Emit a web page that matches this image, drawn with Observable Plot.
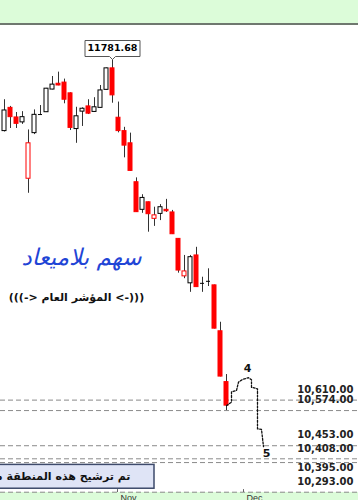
<!DOCTYPE html>
<html><head><meta charset="utf-8">
<script src="https://cdn.jsdelivr.net/npm/d3@7"></script>
<script src="https://cdn.jsdelivr.net/npm/@observablehq/plot@0.6"></script>
<style>
html,body{margin:0;padding:0;background:#fff;}
#wrap{width:358px;height:500px;overflow:hidden;position:relative;}
#top{height:23px;background:#dcfcd9;border-bottom:2px solid #6f786f;}
#chart svg{display:block;}
</style></head><body>
<div id="wrap"><div id="top"></div><div id="chart"></div></div>
<script>
// Daily candles (trading-day index 0..37)
const opens  = [11536,11616,11583,11566,11372,11529,11593,11601,11679,11699,11703,11666,11543,11603,11621,11602,11616,11678,11752,11582,11536,11494,11360,11265,11291,11234,11251,11265,11256,11165,11036,11012,11108,11012,11019,11005,10847,10672];
const highs  = [11644,11621,11600,11603,11540,11609,11624,11683,11724,11739,11715,11668,11618,11616,11644,11651,11693,11753,11781.68,11636,11549,11529,11375,11317,11292,11274,11283,11301,11263,11166,11108,11108,11136,11033,11062,11006,10878,10698];
const lows   = [11533,11545,11545,11559,11322,11524,11592,11600,11678,11692,11630,11538,11494,11552,11593,11600,11615,11677,11632,11530,11444,11397,11256,11253,11188,11208,11228,11256,11180,11047,11028,10981,10998,10981,11001,10855,10690,10574];
const closes = [11607,11584,11561,11584,11494,11592,11593,11682,11696,11693,11644,11547,11587,11613,11596,11618,11676,11752,11659,11536,11486,11399,11257,11306,11250,11246,11274,11260,11181,11056,11053,11102,10999,11012,11019,10856,10691,10591];

// Month labels (index of first trading day)
const monthLabels = ["Nov", "Dec"];
const monthStarts = [19, 40];

// Horizontal support levels
const levels = [10610, 10574, 10453, 10408, 10395, 10293];

// Projected path (waves 4 and 5)
const projX = [37, 37.8, 37.8, 38.7, 39.0, 39.6, 40.7, 41.2, 41.2, 42.1, 42.2, 42.9, 43.1];
const projY = [10591, 10603, 10638, 10643, 10672, 10681, 10687, 10680, 10654, 10649, 10511, 10509, 10450];
const waveLabels = ["4", "5"];
const waveX = [40.55, 43.67];
const waveY = [10718, 10425];

// Text annotations
const titleText = "سهم بلاميعاد";
const titleX = 12.83, titleY = 11101;
const indexText = "\u200E(((-> \u2067المؤشر العام\u2069 <-)))\u200E";
const indexX = 11.95, indexY = 10963;
const noteText = "تم ترشيح هذه المنطقة منطقة الارتداد";
const noteX = 21, noteY = 10347;
const noteBox = {x1: -3, x2: 25, y1: 10305, y2: 10387};

const candles = opens.map((o, i) => {
  const c = closes[i];
  const prev = i > 0 ? closes[i - 1] : c;
  const red = i > 0 && c < prev;
  return {i, open: o, high: highs[i], low: lows[i], close: c,
    color: red ? "#ff0000" : "#000000", up: c > o, doji: c === o};
});
const bodies = candles.filter(d => !d.doji);
const dojis = candles.filter(d => d.doji);
const proj = projX.map((x, k) => ({x, y: projY[k]}));
const waves = waveLabels.map((t, k) => ({t, x: waveX[k], y: waveY[k]}));
const peak = candles.reduce((a, b) => b.high > a.high ? b : a);
const months = monthLabels.map((m, k) => ({m, i: monthStarts[k]}));
const yLow = 10292, yHigh = 11899.5;
const levelRows = levels.map(v => ({v, below: levels.some(u => u > v && u - v < 20)}));
const fmt = d3.format(",.2f");

const chart = Plot.plot({
  width: 358, height: 475,
  marginTop: 0, marginRight: 0, marginBottom: 8, marginLeft: 0,
  x: {type: "linear", domain: [-2/3, 59], round: true, axis: null},
  y: {domain: [yLow, yHigh], axis: null},
  color: {type: "identity"},
  style: {fontFamily: "DejaVu Sans", background: "linear-gradient(to bottom,#ffffff 467px,#dcfcd9 467px)", overflow: "hidden"},
  marks: [
    Plot.ruleY(levels, {y: d => d, stroke: "#8a8a8a", strokeDasharray: "5,3"}),
    Plot.rect([noteBox], {x1: "x1", x2: "x2", y1: "y1", y2: "y2", fill: "#dfe4f6", stroke: "#3d4a6b", strokeWidth: 1.5}),
    Plot.text([noteText], {x: () => noteX, y: () => noteY, text: d => d, textAnchor: "end", fontSize: 11, fontWeight: "bold", fill: "#111"}),
    Plot.ruleX(candles, {x: "i", y1: "low", y2: "high", stroke: "#333"}),
    Plot.rect(bodies, {x1: d => d.i - 0.5, x2: d => d.i + 0.5, insetLeft: 1, insetRight: 1, y1: "open", y2: "close",
      fill: d => d.up ? "#ffffff" : d.color, stroke: "color"}),
    Plot.ruleY(dojis, {y: "close", x1: d => d.i - 0.5, x2: d => d.i + 0.5, insetLeft: 1, insetRight: 1, stroke: "color"}),
    Plot.line(proj, {x: "x", y: "y", stroke: "#111", strokeWidth: 1.3, strokeDasharray: "2,1.6", curve: "linear"}),
    Plot.text(waves, {x: "x", y: "y", text: "t", fontSize: 11, fontWeight: "bold", fill: "#111"}),
    Plot.text(levelRows, {y: "v", text: d => fmt(d.v), frameAnchor: "right", textAnchor: "end", dx: -5,
      dy: -10.5, fontSize: 10, fontWeight: "bold", fill: "#222", filter: d => !d.below}),
    Plot.text(levelRows, {y: "v", text: d => fmt(d.v), frameAnchor: "right", textAnchor: "end", dx: -5,
      dy: 5.5, fontSize: 10, fontWeight: "bold", fill: "#222", filter: d => d.below}),
    Plot.tip([peak], {x: "i", y: "high", title: d => d.high.toFixed(2), anchor: "bottom", pointerSize: 6,
      textPadding: 2.5, fontSize: 9.5, fontWeight: "bold", fill: "#ffffff", stroke: "#555", pathFilter: "none"}),
    Plot.ruleX(months, {x: d => d.i - 0.2, y1: yLow, y2: yLow + 10, stroke: "#666"}),
    Plot.text(months, {x: d => d.i - 0.2, text: "m", frameAnchor: "bottom", lineAnchor: "top", textAnchor: "start",
      dx: 3, dy: 2, fontSize: 9, fontFamily: "Liberation Sans", fill: "#333"}),
    Plot.text([titleText], {x: () => titleX, y: () => titleY, text: d => d, fontSize: 23, fill: "#1f45d6", fontStyle: "italic"}),
    Plot.text([indexText], {x: () => indexX, y: () => indexY, text: d => d, fontSize: 11, fontWeight: "bold", fill: "#111"})
  ]
});
document.getElementById("chart").appendChild(chart);
</script>
</body></html>
